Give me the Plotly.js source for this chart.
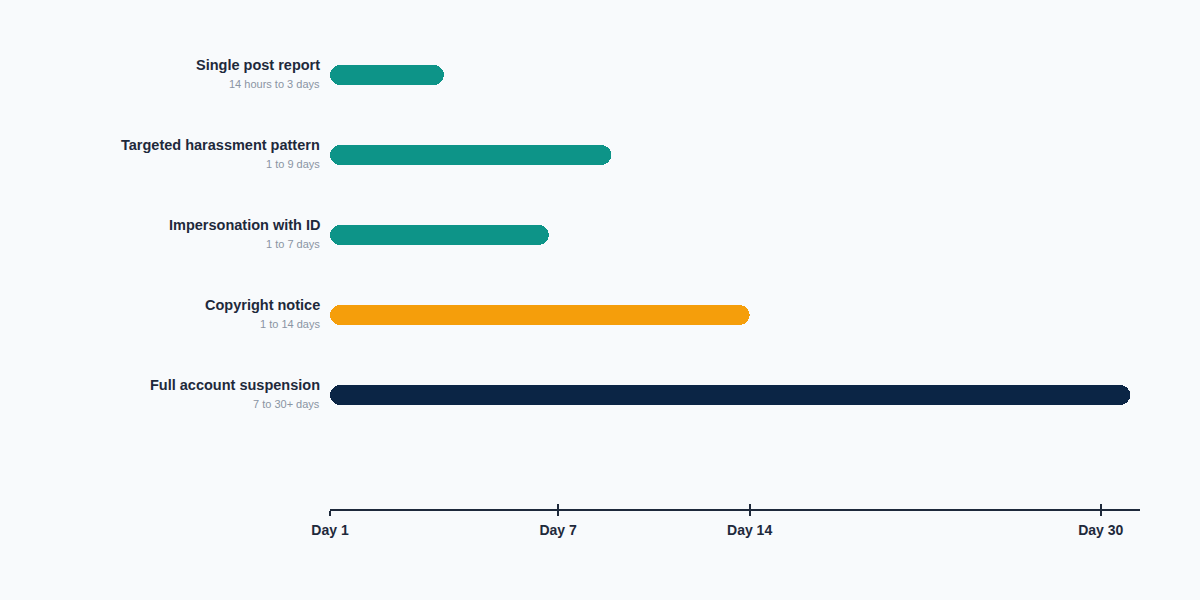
<!DOCTYPE html>
<html>
<head>
<meta charset="utf-8">
<script src="https://cdn.plot.ly/plotly-3.0.1.min.js"></script>
<style>
  html, body { margin: 0; padding: 0; background: #f8fafc; }
  #chart { width: 1200px; height: 600px; }
</style>
</head>
<body>
<div id="chart"></div>
<script>
// Takedown timelines, days on a power scale (exponent 0.7)
const categories = [
  'Single post report',
  'Targeted harassment pattern',
  'Impersonation with ID',
  'Copyright notice',
  'Full account suspension'
];
const rangeLabels = [
  '14 hours to 3 days',
  '1 to 9 days',
  '1 to 7 days',
  '1 to 14 days',
  '7 to 30+ days'
];
const startDays = [1, 1, 1, 1, 1];
const endDays = [3.6, 8.8, 6.7, 14, 31.5];
const barColors = ['#0d9488', '#0d9488', '#0d9488', '#f59e0b', '#0b2545'];
const tickDays = [1, 7, 14, 30];

const EXP = 0.7;
const scale = d => Math.pow(d, EXP);

const ink = '#1e293b';
const font = 'Liberation Sans, Arial, sans-serif';

const bars = {
  type: 'bar',
  orientation: 'h',
  y: categories,
  base: startDays.map(scale),
  x: endDays.map((e, i) => scale(e) - scale(startDays[i])),
  width: 0.25,
  marker: { color: barColors, cornerradius: 10, line: { width: 0 } },
  hoverinfo: 'skip',
  showlegend: false
};

// extra invisible trace on xaxis2 so the inside ticks get drawn
const tickHelper = {
  type: 'scatter',
  mode: 'markers',
  x: [scale(1)],
  y: [categories[0]],
  xaxis: 'x2',
  marker: { opacity: 0 },
  hoverinfo: 'skip',
  showlegend: false
};

const xRange = [scale(1), scale(32)];

const annotations = [];
categories.forEach((c, i) => {
  annotations.push({
    xref: 'paper', yref: 'y', x: 0, y: c,
    xanchor: 'right', yanchor: 'middle', xshift: -8, yshift: 10,
    text: '<b>' + c + '</b>', showarrow: false,
    font: { family: font, size: 14.5, color: ink }
  });
  annotations.push({
    xref: 'paper', yref: 'y', x: 0, y: c,
    xanchor: 'right', yanchor: 'middle', xshift: -8, yshift: -9,
    text: rangeLabels[i], showarrow: false,
    font: { family: font, size: 11, color: '#8a94a3' }
  });
});

const layout = {
  width: 1200,
  height: 600,
  paper_bgcolor: '#f8fafc',
  plot_bgcolor: '#f8fafc',
  margin: { l: 330, r: 60, t: 30, b: 91 },
  bargap: 0,
  xaxis: {
    range: xRange,
    tickvals: tickDays.map(scale),
    ticktext: tickDays.map(d => '<b>Day ' + d + '</b>'),
    ticks: 'outside',
    ticklen: 5,
    tickwidth: 2,
    tickcolor: ink,
    ticklabelstandoff: 2,
    showline: true,
    linecolor: ink,
    linewidth: 2,
    showgrid: false,
    zeroline: false,
    tickfont: { family: font, size: 14, color: ink },
    fixedrange: true
  },
  xaxis2: {
    overlaying: 'x',
    anchor: 'y',
    side: 'bottom',
    range: xRange,
    tickvals: tickDays.map(scale),
    showticklabels: false,
    ticks: 'inside',
    ticklen: 5,
    tickwidth: 2,
    tickcolor: ink,
    showline: false,
    showgrid: false,
    zeroline: false
  },
  yaxis: {
    type: 'category',
    range: [5.425, -0.5625],
    showticklabels: false,
    ticks: '',
    showgrid: false,
    zeroline: false,
    showline: false,
    fixedrange: true
  },
  annotations: annotations,
  font: { family: font, color: ink }
};

Plotly.newPlot('chart', [bars, tickHelper], layout, { displayModeBar: false, staticPlot: true });
</script>
</body>
</html>
